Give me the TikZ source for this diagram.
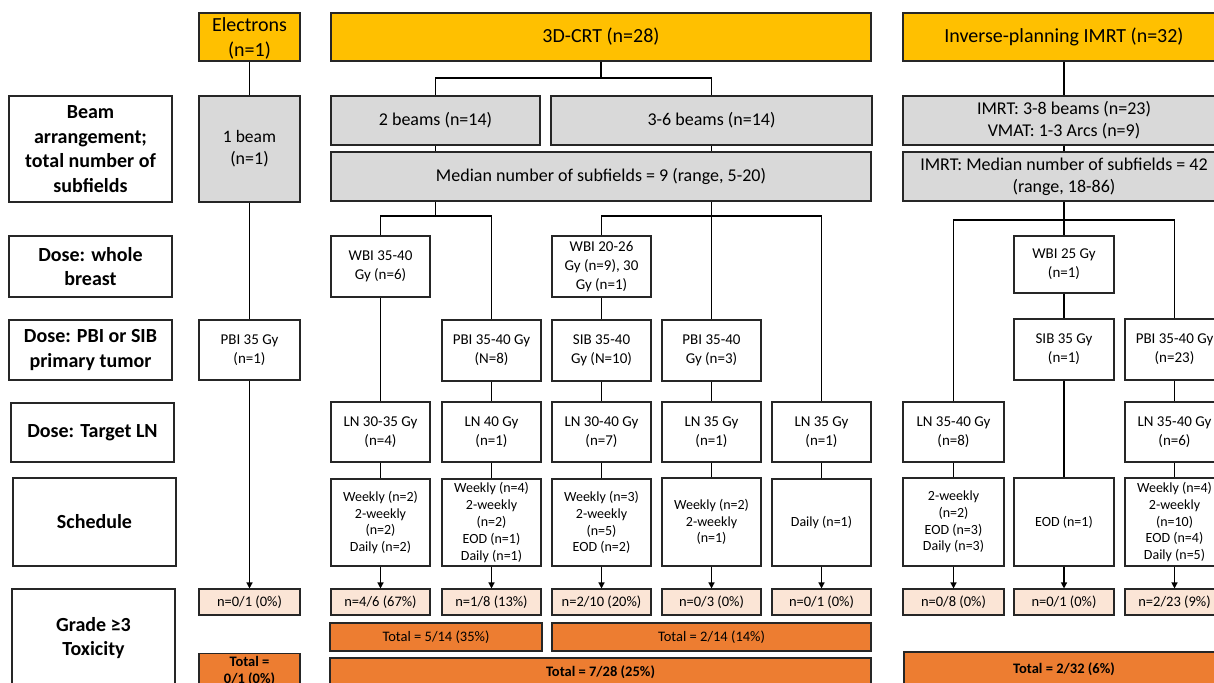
\documentclass[tikz,border=0pt]{standalone}
\usepackage{fontspec}
\setmainfont{Carlito}
\usetikzlibrary{arrows.meta}
\definecolor{hdrY}{HTML}{FFC000}
\definecolor{grayF}{HTML}{D9D9D9}
\definecolor{peach}{HTML}{FBE5D6}
\definecolor{orng}{HTML}{ED7D31}
\definecolor{edge}{HTML}{262626}
\newcommand\mybox[7]{\node[#1, minimum width={(#4-#3)*1pt}, minimum height={(#6-#5)*1pt}] (#2) at ({(#3+#4)/2},{(#5+#6)/2}) {#7};}
\tikzset{
  bx/.style={draw=edge, line width=1.1pt, align=center, inner sep=0pt, text=black},
  lab/.style={bx, font=\fontsize{20}{24.4}\selectfont\bfseries},
  hdr/.style={bx, fill=hdrY, font=\fontsize{20}{25.5}\selectfont},
  gry/.style={bx, fill=grayF, font=\fontsize{18}{22}\selectfont},
  dose/.style={bx, font=\fontsize{15}{19}\selectfont},
  sched/.style={bx, font=\fontsize{14}{16.8}\selectfont},
  tox/.style={bx, fill=peach, font=\fontsize{14.5}{17}\selectfont},
  tot/.style={bx, fill=orng, font=\fontsize{14.5}{17}\selectfont},
  totb/.style={tot, font=\fontsize{14.5}{17}\selectfont\bfseries},
  conn/.style={draw=black, line width=1.3pt},
  arr/.style={conn, -{Triangle[length=6pt,width=6pt]}}
}
\begin{document}
\begin{tikzpicture}[x=1pt,y=-1pt]
\useasboundingbox[fill=white] (0,0) rectangle (1214,682);
% row labels
\mybox{lab}{L1}{9}{172}{96}{202}{Beam\\arrangement;\\total number of\\subfields}
\mybox{lab}{L2}{9}{172}{236}{297}{Dose: whole\\breast}
\mybox{lab}{L3}{9}{172}{320}{380}{Dose: PBI or SIB\\primary tumor}
\mybox{lab}{L4}{11}{174}{403}{462}{Dose: Target LN}
\mybox{lab}{L5}{13}{176}{478}{566}{Schedule}
\mybox{lab}{L6}{12}{175}{589}{687}{Grade ≥3\\Toxicity}
% electrons
\mybox{hdr}{ele}{199}{300}{13}{61}{\rule{0pt}{17pt}Electrons\\(n=1)}
\mybox{gry}{b1}{199}{300}{96}{202}{\fontsize{17.5}{22}\selectfont 1 beam\\(n=1)}
\mybox{dose}{pE}{199}{300}{320}{380}{PBI 35 Gy\\(n=1)}
\mybox{tox}{tE}{199}{300}{589}{615}{n=0/1 (0\%)}
\node[totb, minimum width=101pt, minimum height=34pt, anchor=north] (totE) at (249.5,653) {Total =\\0/1 (0\%)};
% 3D-CRT
\mybox{hdr}{crt}{331}{871}{13}{61}{3D-CRT (n=28)}
\mybox{gry}{b2}{331}{540}{96}{145}{2 beams (n=14)}
\mybox{gry}{b36}{551}{872}{96}{145}{3-6 beams (n=14)}
\mybox{gry}{med}{331}{871}{152}{201}{Median number of subfields = 9 (range, 5-20)}
\mybox{dose}{wA}{331}{430}{236}{297}{WBI 35-40\\Gy (n=6)}
\mybox{dose}{wC}{552}{651}{236}{297}{WBI 20-26\\Gy (n=9), 30\\Gy (n=1)}
\mybox{dose}{pB}{442}{541}{320}{381}{PBI 35-40 Gy\\(N=8)}
\mybox{dose}{pC}{552}{651}{320}{381}{SIB 35-40\\Gy (N=10)}
\mybox{dose}{pD}{662}{761}{320}{381}{PBI 35-40\\Gy (n=3)}
\mybox{dose}{lA}{331}{430}{402}{462}{LN 30-35 Gy\\(n=4)}
\mybox{dose}{lB}{442}{541}{402}{462}{LN 40 Gy\\(n=1)}
\mybox{dose}{lC}{552}{651}{402}{462}{LN 30-40 Gy\\(n=7)}
\mybox{dose}{lD}{662}{761}{402}{462}{LN 35 Gy\\(n=1)}
\mybox{dose}{lE}{772}{871}{402}{462}{LN 35 Gy\\(n=1)}
\mybox{sched}{sA}{331}{430}{479}{566}{Weekly (n=2)\\2-weekly\\(n=2)\\Daily (n=2)}
\mybox{sched}{sB}{442}{541}{479}{566}{Weekly (n=4)\\2-weekly\\(n=2)\\EOD (n=1)\\Daily (n=1)}
\mybox{sched}{sC}{552}{651}{479}{566}{Weekly (n=3)\\2-weekly\\(n=5)\\EOD (n=2)}
\mybox{sched}{sD}{662}{761}{478}{566}{Weekly (n=2)\\2-weekly\\(n=1)}
\mybox{sched}{sE}{772}{871}{479}{566}{Daily (n=1)}
\mybox{tox}{tA}{331}{430}{589}{615}{n=4/6 (67\%)}
\mybox{tox}{tB}{442}{541}{589}{615}{n=1/8 (13\%)}
\mybox{tox}{tC}{552}{651}{589}{615}{n=2/10 (20\%)}
\mybox{tox}{tD}{662}{761}{589}{615}{n=0/3 (0\%)}
\mybox{tox}{tE2}{772}{871}{589}{615}{n=0/1 (0\%)}
\mybox{tot}{T1}{330}{542}{623}{651}{Total = 5/14 (35\%)}
\mybox{tot}{T2}{552}{871}{623}{651}{Total = 2/14 (14\%)}
\mybox{totb}{T3}{330}{871}{658}{686}{Total = 7/28 (25\%)}
% IMRT
\mybox{hdr}{imrt}{903}{1225}{13}{61}{Inverse-planning IMRT (n=32)}
\mybox{gry}{bi}{903}{1225}{96}{145}{IMRT: 3-8 beams (n=23)\\VMAT: 1-3 Arcs (n=9)}
\mybox{gry}{mi}{903}{1225}{152}{201}{IMRT: Median number of subfields = 42\\(range, 18-86)}
\mybox{dose}{wG}{1014}{1114}{236}{293}{WBI 25 Gy\\(n=1)}
\mybox{dose}{pG}{1014}{1114}{319}{380}{SIB 35 Gy\\(n=1)}
\mybox{dose}{pH}{1125}{1224}{319}{380}{PBI 35-40 Gy\\(n=23)}
\mybox{dose}{lF}{903}{1004}{402}{462}{LN 35-40 Gy\\(n=8)}
\mybox{dose}{lH}{1125}{1224}{402}{462}{LN 35-40 Gy\\(n=6)}
\mybox{sched}{sF}{903}{1004}{478}{566}{2-weekly\\(n=2)\\EOD (n=3)\\Daily (n=3)}
\mybox{sched}{sG}{1014}{1114}{478}{566}{EOD (n=1)}
\mybox{sched}{sH}{1125}{1224}{478}{566}{Weekly (n=4)\\2-weekly\\(n=10)\\EOD (n=4)\\Daily (n=5)}
\mybox{tox}{tF}{903}{1004}{589}{615}{n=0/8 (0\%)}
\mybox{tox}{tG}{1014}{1114}{589}{615}{n=0/1 (0\%)}
\mybox{tox}{tH}{1125}{1224}{589}{615}{n=2/23 (9\%)}
\mybox{totb}{T4}{904}{1224}{652}{686}{Total = 2/32 (6\%)}
% connectors: electrons
\draw[conn] (ele.south) -- (b1.north);
\draw[conn] (b1.south) -- (pE.north);
\draw[arr] (pE.south) -- (tE.north);
% connectors: 3D-CRT
\coordinate (j1) at (601,78);
\draw[conn] (crt.south) -- (j1);
\draw[conn] (b2.north) |- (j1) -| (b36.north);
\draw[conn] (b2.south) -- (b2.south |- med.north);
\draw[conn] (b36.south) -- (b36.south |- med.north);
\coordinate (s1) at (435.5,216);
\draw[conn] (s1 |- med.south) -- (s1);
\draw[conn] (wA.north) |- (s1) -| (pB.north);
\coordinate (s2) at (711.5,216);
\draw[conn] (s2 |- med.south) -- (s2);
\draw[conn] (wC.north) |- (s2) -| (lE.north);
\draw[conn] (s2) -- (pD.north);
\draw[conn] (wA.south) -- (lA.north);
\draw[conn] (lA.south) -- (sA.north);
\draw[arr] (sA.south) -- (tA.north);
\draw[conn] (pB.south) -- (lB.north);
\draw[conn] (lB.south) -- (sB.north);
\draw[arr] (sB.south) -- (tB.north);
\draw[conn] (wC.south) -- (pC.north);
\draw[conn] (pC.south) -- (lC.north);
\draw[conn] (lC.south) -- (sC.north);
\draw[arr] (sC.south) -- (tC.north);
\draw[conn] (pD.south) -- (lD.north);
\draw[conn] (lD.south) -- (sD.north);
\draw[arr] (sD.south) -- (tD.north);
\draw[conn] (lE.south) -- (sE.north);
\draw[arr] (sE.south) -- (tE2.north);
% connectors: IMRT
\draw[conn] (imrt.south) -- (bi.north);
\draw[conn] (bi.south) -- (mi.north);
\coordinate (s3) at (1064,220);
\draw[conn] (mi.south) -- (s3);
\draw[conn] (lF.north) |- (s3) -| (pH.north);
\draw[conn] (s3) -- (wG.north);
\draw[conn] (wG.south) -- (pG.north);
\draw[conn] (pG.south) -- (sG.north);
\draw[arr] (sG.south) -- (tG.north);
\draw[conn] (lF.south) -- (sF.north);
\draw[arr] (sF.south) -- (tF.north);
\draw[conn] (pH.south) -- (lH.north);
\draw[conn] (lH.south) -- (sH.north);
\draw[arr] (sH.south) -- (tH.north);
\end{tikzpicture}
\end{document}
